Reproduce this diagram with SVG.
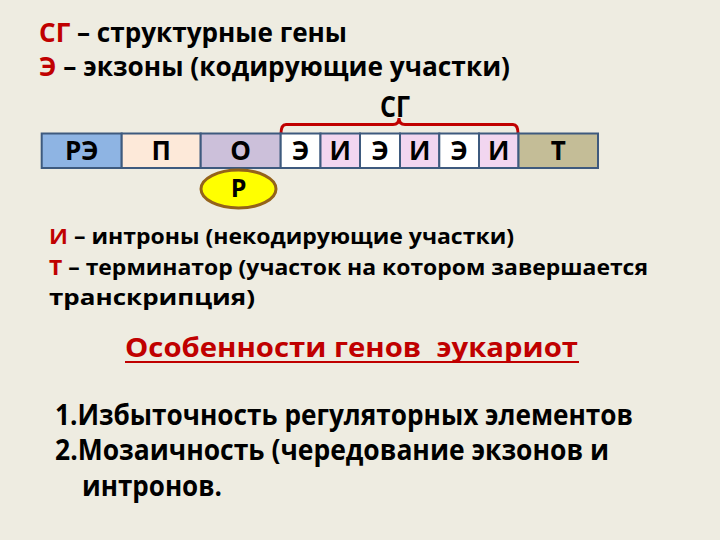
<svg xmlns="http://www.w3.org/2000/svg" width="720" height="540" viewBox="0 0 720 540">
<style>
text{font-family:"Open Sans","Noto Sans","Liberation Sans",sans-serif;font-weight:bold;fill:#000}
.red{fill:#C00000}
.h{font-size:27px}
.m{font-size:22px}
.l{font-size:28px}
.c{text-anchor:middle}
.cell{stroke:#3E5A7E;stroke-width:2}
</style>
<rect width="720" height="540" fill="#EEECE1"/>
<g id="legend-top">
<text class="h" x="39" y="42" textLength="308" lengthAdjust="spacingAndGlyphs"><tspan class="red">СГ</tspan> – структурные гены</text>
<text class="h" x="39" y="76" textLength="471" lengthAdjust="spacingAndGlyphs"><tspan class="red">Э</tspan> – экзоны (кодирующие участки)</text>
</g>
<g id="bracket">
<path d="M281,134 Q281,124.5 286,124.5 L393,124.5 Q399,124.5 399,118 Q399,124.5 405,124.5 L513,124.5 Q518,124.5 518,134" fill="none" stroke="#C00000" stroke-width="3"/>
<text x="395" y="117" style="font-size:28px;text-anchor:middle" textLength="30" lengthAdjust="spacingAndGlyphs">СГ</text>
</g>
<g id="gene-bar" font-size="26">
<g id="re"><rect class="cell" x="41.7" y="133.5" width="80" height="34.5" fill="#8EB4E3"/><text class="c" x="81.7" y="160" font-size="26">РЭ</text></g>
<g id="p"><rect class="cell" x="121.7" y="133.5" width="79" height="34.5" fill="#FDE9D9"/><text class="c" x="161.2" y="160" font-size="26">П</text></g>
<g id="o"><rect class="cell" x="200.7" y="133.5" width="80" height="34.5" fill="#CCC0DA"/><text class="c" x="240.7" y="160" font-size="26">О</text></g>
<g id="e1"><rect class="cell" x="280.7" y="133.5" width="39.8" height="34.5" fill="#FFFFFF"/><text class="c" x="300.6" y="160" font-size="26">Э</text></g>
<g id="i1"><rect class="cell" x="320.5" y="133.5" width="39.5" height="34.5" fill="#F2D6F0"/><text class="c" x="340.2" y="160" font-size="26">И</text></g>
<g id="e2"><rect class="cell" x="360" y="133.5" width="40" height="34.5" fill="#FFFFFF"/><text class="c" x="380" y="160" font-size="26">Э</text></g>
<g id="i2"><rect class="cell" x="400" y="133.5" width="39.3" height="34.5" fill="#F2D6F0"/><text class="c" x="419.7" y="160" font-size="26">И</text></g>
<g id="e3"><rect class="cell" x="439.3" y="133.5" width="39.7" height="34.5" fill="#FFFFFF"/><text class="c" x="459.2" y="160" font-size="26">Э</text></g>
<g id="i3"><rect class="cell" x="479" y="133.5" width="39.5" height="34.5" fill="#F2D6F0"/><text class="c" x="498.7" y="160" font-size="26">И</text></g>
<g id="t"><rect class="cell" x="518.5" y="133.5" width="79.5" height="34.5" fill="#C4BD97"/><text class="c" x="558.2" y="160" font-size="26">Т</text></g>
</g>
<g id="repressor">
<ellipse cx="238.5" cy="189" rx="37.5" ry="19" fill="#FFFF00" stroke="#94631A" stroke-width="3"/>
<text class="c" x="238.5" y="197" font-size="25">Р</text>
</g>
<g id="legend-mid">
<text class="m" x="49" y="244" textLength="465" lengthAdjust="spacingAndGlyphs"><tspan class="red">И</tspan> – интроны (некодирующие участки)</text>
<text class="m" x="49" y="275" textLength="599" lengthAdjust="spacingAndGlyphs"><tspan class="red">Т</tspan> – терминатор (участок на котором завершается</text>
<text class="m" x="49" y="305" textLength="206" lengthAdjust="spacingAndGlyphs">транскрипция)</text>
</g>
<g id="title">
<text class="h red" x="125" y="357" textLength="453" lengthAdjust="spacingAndGlyphs">Особенности генов&#160; эукариот</text>
<line x1="125" y1="362" x2="579" y2="362" stroke="#C00000" stroke-width="2.2"/>
</g>
<g id="list">
<text class="l" x="55" y="425" textLength="578" lengthAdjust="spacingAndGlyphs">1.Избыточность регуляторных элементов</text>
<text class="l" x="55" y="460" textLength="554" lengthAdjust="spacingAndGlyphs">2.Мозаичность (чередование экзонов и</text>
<text class="l" x="82" y="496" textLength="140" lengthAdjust="spacingAndGlyphs">интронов.</text>
</g>
</svg>
